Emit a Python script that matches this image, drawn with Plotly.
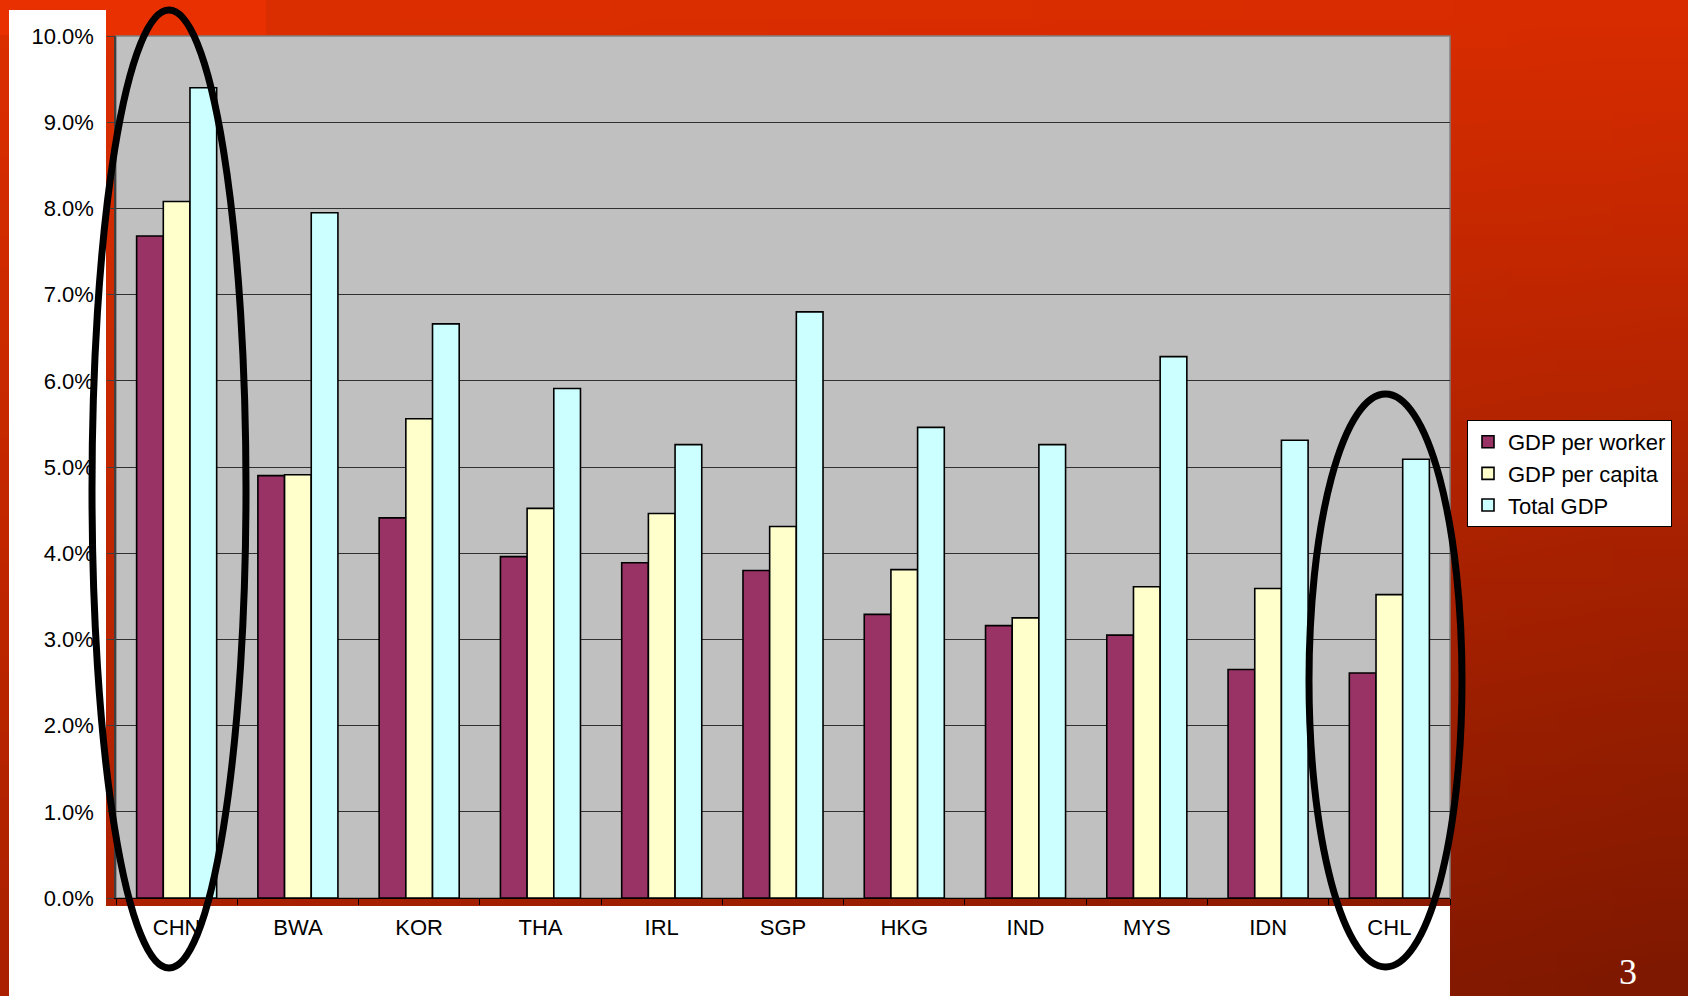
import base64, struct, zlib
import plotly.graph_objects as go

# ---------------- data ----------------
countries = ["CHN", "BWA", "KOR", "THA", "IRL", "SGP", "HKG", "IND", "MYS", "IDN", "CHL"]
gdp_per_worker = [7.68, 4.90, 4.41, 3.96, 3.89, 3.80, 3.29, 3.16, 3.05, 2.65, 2.61]
gdp_per_capita = [8.08, 4.91, 5.56, 4.52, 4.46, 4.31, 3.81, 3.25, 3.61, 3.59, 3.52]
total_gdp = [9.40, 7.95, 6.66, 5.91, 5.26, 6.80, 5.46, 5.26, 6.28, 5.31, 5.09]
series_names = ["GDP per worker", "GDP per capita", "Total GDP"]
series_colors = ["#993366", "#FFFFCC", "#CCFFFF"]

W, H = 1688, 996
ML, MR, MT, MB = 116, 238, 36, 98
PW, PH = W - ML - MR, H - MT - MB


def px(x):
    return (x - ML) / PW


def py(y):
    return (H - MB - y) / PH


# ---------------- background gradient image ----------------
def make_png(w, h, fn):
    rows = []
    for j in range(h):
        row = bytearray([0])
        for i in range(w):
            row.extend(fn(i / (w - 1), j / (h - 1)))
        rows.append(bytes(row))
    raw = b"".join(rows)

    def chunk(t, d):
        c = struct.pack(">I", len(d)) + t + d
        return c + struct.pack(">I", zlib.crc32(t + d) & 0xFFFFFFFF)

    data = b"\x89PNG\r\n\x1a\n"
    data += chunk(b"IHDR", struct.pack(">IIBBBBB", w, h, 8, 2, 0, 0, 0))
    data += chunk(b"IDAT", zlib.compress(raw, 9))
    data += chunk(b"IEND", b"")
    return "data:image/png;base64," + base64.b64encode(data).decode()


def grad(u, v):
    r = 220 - 4 * u - (50 + 40 * u) * v
    g = 46 - 2 * u - (14 + 6 * u) * v
    return [int(round(r)), int(round(g)), 0]


bg_src = make_png(32, 32, grad)

fig = go.Figure()
for name, vals, col in zip(series_names, [gdp_per_worker, gdp_per_capita, total_gdp], series_colors):
    fig.add_trace(go.Bar(
        x=countries, y=vals, name=name,
        marker=dict(color=col, line=dict(color="black", width=1.6)),
    ))

shapes = [
    # bright top-left block
    dict(type="rect", xref="paper", yref="paper", x0=px(0), x1=px(266), y0=py(0), y1=py(35),
         fillcolor="#E83000", line=dict(width=0), layer="below"),
    # white panels
    dict(type="rect", xref="paper", yref="paper", x0=px(9), x1=px(106), y0=py(10), y1=py(996),
         fillcolor="white", line=dict(width=0), layer="below"),
    dict(type="rect", xref="paper", yref="paper", x0=px(9), x1=px(1450), y0=py(906), y1=py(996),
         fillcolor="white", line=dict(width=0), layer="below"),
    # plot area
    dict(type="rect", xref="paper", yref="paper", x0=0, x1=1, y0=0, y1=1,
         fillcolor="#C0C0C0", line=dict(color="#808080", width=1.5), layer="below"),
    # ellipses
    dict(type="circle", xref="paper", yref="paper", x0=px(92), x1=px(246), y0=py(10), y1=py(968),
         line=dict(color="black", width=7), layer="above"),
    dict(type="circle", xref="paper", yref="paper", x0=px(1309), x1=px(1462), y0=py(394), y1=py(967),
         line=dict(color="black", width=7), layer="above"),
]

fig.update_layout(
    width=W, height=H,
    margin=dict(l=ML, r=MR, t=MT, b=MB, pad=0),
    paper_bgcolor="#B82400",
    plot_bgcolor="rgba(0,0,0,0)",
    barmode="group", bargap=0.34, bargroupgap=0,
    font=dict(family="Liberation Sans, Arial, sans-serif", size=22, color="black"),
    images=[dict(source=bg_src, xref="paper", yref="paper", x=px(0), y=py(0),
                 sizex=W / PW, sizey=H / PH, sizing="stretch", xanchor="left", yanchor="top",
                 layer="below")],
    shapes=shapes,
    showlegend=True,
    legend=dict(x=px(1467), y=py(420), xanchor="left", yanchor="top",
                bgcolor="white", bordercolor="black", borderwidth=1,
                font=dict(size=22, color="black"), itemwidth=30,
                tracegroupgap=0),
    annotations=[dict(text="3", x=px(1628), y=py(972), xref="paper", yref="paper",
                      xanchor="center", yanchor="middle",
                      showarrow=False, font=dict(family="Liberation Serif, Times New Roman, serif",
                                                 size=36, color="white"))],
)
fig.update_xaxes(
    type="category", showline=True, linecolor="black", linewidth=1,
    ticks="outside", tickson="boundaries", ticklen=6, tickcolor="black",
    ticklabelstandoff=10, showgrid=False, tickfont=dict(size=22),
)
fig.update_yaxes(
    range=[0, 10], dtick=1, tickformat=".1f", ticksuffix="%",
    showline=True, linecolor="#404040", linewidth=1.5,
    ticks="outside", ticklen=7, tickcolor="#404040",
    showgrid=True, gridcolor="#303030", gridwidth=1,
    zeroline=False, ticklabelstandoff=9, tickfont=dict(size=22),
)

fig.write_html("out.html", config={"displayModeBar": False},
               post_script="document.body.style.margin='0';document.body.style.overflow='hidden';")
